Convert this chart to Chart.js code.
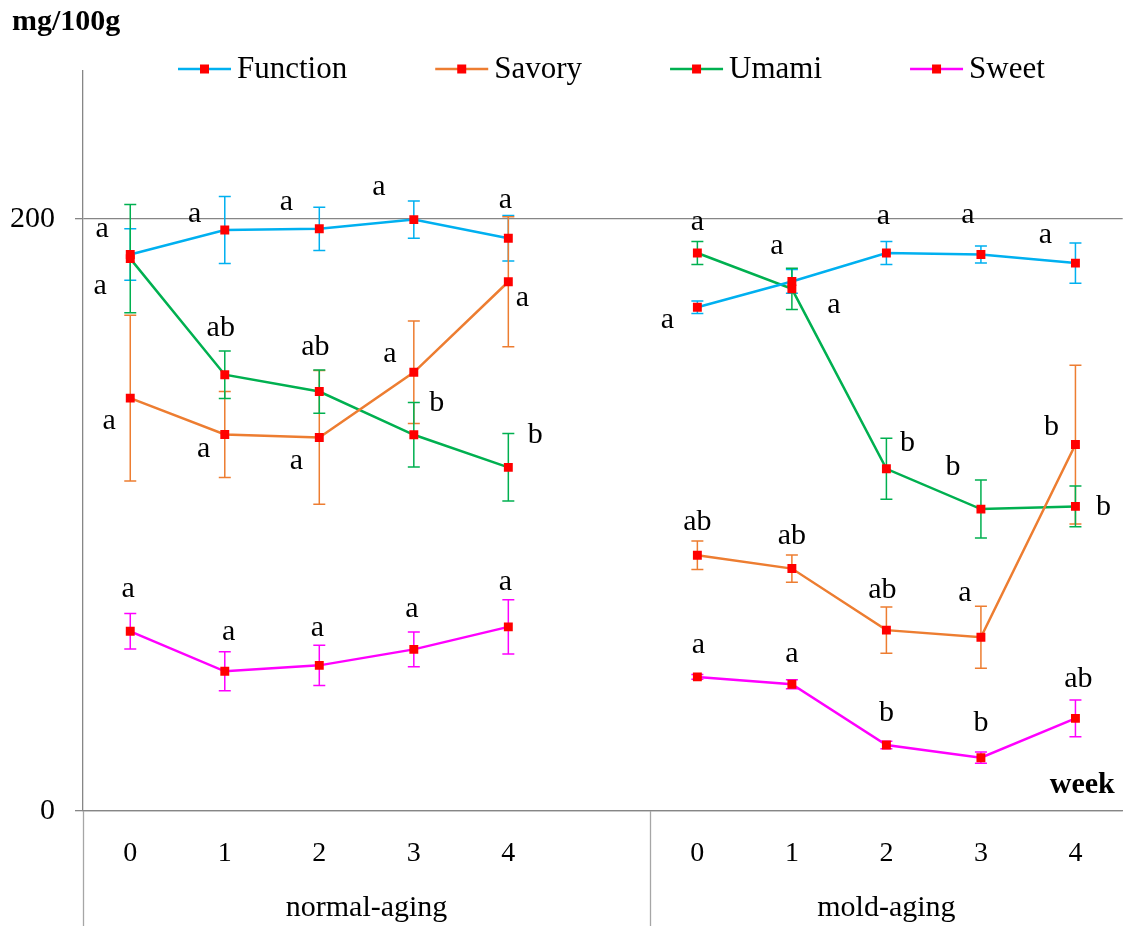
<!DOCTYPE html>
<html>
<head>
<meta charset="utf-8">
<title>Taste-active compounds during aging</title>
<script src="https://cdn.jsdelivr.net/npm/chart.js@4/dist/chart.umd.min.js"></script>
<style>
  html, body { margin: 0; padding: 0; background: #ffffff; }
  #wrap { width: 1129px; height: 926px; }
</style>
</head>
<body>
<div id="wrap"><canvas id="c" width="1129" height="926"></canvas></div>
<script>
// Week labels for both aging methods (empty slot separates the groups)
const weeks = ['0', '1', '2', '3', '4', '', '0', '1', '2', '3', '4'];
const groups = ['normal-aging', 'mold-aging'];
// Category boundaries of each group (half a slot outside the first/last week)
const groupSpans = [[-0.5, 5.5], [5.5, 10.5]];
const yTicks = [0, 200];

// Means (mg/100g), standard deviations and significance letters
const functionMean = [188.0, 196.3, 196.7, 199.8, 193.5, null, 170.2, 178.9, 188.5, 188.0, 185.1];
const functionErr  = [8.7, 11.3, 7.3, 6.3, 7.7, null, 2.1, 4.0, 3.9, 2.9, 6.8];
const functionLetters = ['a', 'a', 'a', 'a', 'a', '', 'a', 'a', 'a', 'a', 'a'];

const savoryMean = [139.5, 127.2, 126.2, 148.2, 178.8, null, 86.4, 81.9, 61.1, 58.7, 123.8];
const savoryErr  = [28.0, 14.5, 22.6, 17.3, 22.0, null, 4.8, 4.6, 7.8, 10.5, 26.8];
const savoryLetters = ['a', 'a', 'a', 'a', 'a', '', 'ab', 'ab', 'ab', 'a', 'b'];

const umamiMean = [186.6, 147.4, 141.7, 127.1, 116.1, null, 188.5, 176.4, 115.6, 102.0, 102.9];
const umamiErr  = [18.3, 8.0, 7.3, 10.9, 11.4, null, 3.9, 7.0, 10.3, 9.8, 6.9];
const umamiLetters = ['a', 'ab', 'ab', 'b', 'b', '', 'a', 'a', 'b', 'b', 'b'];

const sweetMean = [60.7, 47.2, 49.2, 54.6, 62.2, null, 45.3, 42.8, 22.3, 18.0, 31.3];
const sweetErr  = [6.0, 6.6, 6.8, 5.9, 9.2, null, 0.8, 1.5, 1.3, 1.9, 6.2];
const sweetLetters = ['a', 'a', 'a', 'a', 'a', '', 'a', 'a', 'b', 'b', 'ab'];

// Where each letter sits relative to its point, in pixels [dx, dy]
const letterOffsets = {
  Function: [[-28,-25],[-30,-16],[-33,-27],[-35,-32],[-3,-38],null,[-30,13],[-15,-35],[-3,-37],[-13,-39],[-30,-28]],
  Savory:   [[-21,23],[-21,15],[-23,24],[-24,-18],[14,16],null,[0,-33],[0,-32],[-4,-40],[-16,-44],[-24,-17]],
  Umami:    [[-30,27],[-4,-47],[-4,-44],[23,-32],[27,-32],null,[0,-31],[42,16],[21,-26],[-28,-42],[28,1]],
  Sweet:    [[-2,-42],[4,-39],[-2,-37],[-2,-40],[-3,-45],null,[1,-32],[0,-30],[0,-32],[0,-35],[3,-39]]
};

const SERIF = '"Liberation Serif", "Times New Roman", serif';
const MARKER = '#ff0000';

function series(label, color, data, err, letters) {
  return {
    label, data, err, letters,
    borderColor: color,
    backgroundColor: color,
    borderWidth: 2.5,
    pointStyle: 'rect',
    pointRadius: 6.3,
    pointHoverRadius: 6.3,
    pointBorderWidth: 0,
    pointBackgroundColor: MARKER,
    pointBorderColor: MARKER,
    spanGaps: false,
    tension: 0
  };
}

const datasets = [
  series('Function', '#00b0f0', functionMean, functionErr, functionLetters),
  series('Savory', '#ed7d31', savoryMean, savoryErr, savoryLetters),
  series('Umami', '#00b050', umamiMean, umamiErr, umamiLetters),
  series('Sweet', '#ff00ff', sweetMean, sweetErr, sweetLetters)
];

// Error bars with caps, drawn under the lines and markers
const errorBars = {
  id: 'errorBars',
  beforeDatasetsDraw(chart) {
    const { ctx } = chart;
    const x = chart.scales.x, y = chart.scales.y;
    ctx.save();
    chart.data.datasets.forEach((ds) => {
      ctx.strokeStyle = ds.borderColor;
      ctx.lineWidth = 1.5;
      ds.data.forEach((v, i) => {
        if (v === null || ds.err[i] === null) return;
        const px = x.getPixelForValue(i);
        const top = y.getPixelForValue(v + ds.err[i]);
        const bot = y.getPixelForValue(v - ds.err[i]);
        ctx.beginPath();
        ctx.moveTo(px, top); ctx.lineTo(px, bot);
        ctx.moveTo(px - 6, top); ctx.lineTo(px + 6, top);
        ctx.moveTo(px - 6, bot); ctx.lineTo(px + 6, bot);
        ctx.stroke();
      });
    });
    ctx.restore();
  }
};

// Significance letters, group captions, separators, legend and unit labels
const annotations = {
  id: 'annotations',
  afterDraw(chart) {
    const { ctx, chartArea } = chart;
    const x = chart.scales.x, y = chart.scales.y;
    ctx.save();

    // letters next to each point
    ctx.fillStyle = '#000';
    ctx.font = '30px ' + SERIF;
    ctx.textAlign = 'center';
    ctx.textBaseline = 'middle';
    chart.data.datasets.forEach((ds) => {
      const offs = letterOffsets[ds.label];
      ds.data.forEach((v, i) => {
        if (v === null || !ds.letters[i]) return;
        const px = x.getPixelForValue(i) + offs[i][0];
        const py = y.getPixelForValue(v) + offs[i][1];
        ctx.fillText(ds.letters[i], px, py);
      });
    });

    // vertical separators below the category axis
    ctx.strokeStyle = '#a6a6a6';
    ctx.lineWidth = 1.3;
    const bottom = chart.height;
    [groupSpans[0][0], groupSpans[0][1]].forEach((pos) => {
      const px = Math.round(x.getPixelForValue(pos)) + 0.5;
      ctx.beginPath();
      ctx.moveTo(px, chartArea.bottom);
      ctx.lineTo(px, bottom);
      ctx.stroke();
    });

    // group captions
    ctx.fillStyle = '#000';
    ctx.font = '30px ' + SERIF;
    groups.forEach((g, k) => {
      const [a, b] = groupSpans[k];
      const px = (x.getPixelForValue(a) + x.getPixelForValue(b)) / 2;
      ctx.fillText(g, px, chartArea.bottom + 97);
    });

    // unit labels
    ctx.font = 'bold 30px ' + SERIF;
    ctx.textAlign = 'left';
    ctx.fillText('mg/100g', 12, 22);
    ctx.textAlign = 'right';
    ctx.fillText('week', chartArea.right - 8, chartArea.bottom - 26);

    // legend: line with marker, then series name
    ctx.font = '31px ' + SERIF;
    ctx.textAlign = 'left';
    let lx = 178;
    const ly = 69;
    chart.data.datasets.forEach((ds) => {
      ctx.strokeStyle = ds.borderColor;
      ctx.lineWidth = 2.5;
      ctx.beginPath();
      ctx.moveTo(lx, ly); ctx.lineTo(lx + 53, ly);
      ctx.stroke();
      ctx.fillStyle = MARKER;
      ctx.fillRect(lx + 22, ly - 4.5, 9, 9);
      ctx.fillStyle = '#000';
      ctx.fillText(ds.label, lx + 59, ly + 1);
      lx += 59 + ctx.measureText(ds.label).width + 88;
    });

    ctx.restore();
  }
};

new Chart(document.getElementById('c'), {
  type: 'line',
  data: { labels: weeks, datasets },
  plugins: [errorBars, annotations],
  options: {
    responsive: false,
    devicePixelRatio: 1,
    animation: false,
    events: [],
    layout: { padding: { top: 71, right: 4, left: 0, bottom: 0 } },
    plugins: { legend: { display: false }, tooltip: { enabled: false } },
    scales: {
      x: {
        type: 'category',
        offset: true,
        grid: { display: false, drawTicks: false },
        border: { display: true, color: '#868686', width: 1.3 },
        ticks: {
          color: '#000',
          font: { family: SERIF, size: 28 },
          padding: 26,
          maxRotation: 0,
          autoSkip: false
        },
        afterFit(scale) { scale.height = 115; }
      },
      y: {
        min: 0,
        max: 250,
        afterBuildTicks(scale) { scale.ticks = yTicks.map((v) => ({ value: v })); },
        grid: { color: '#868686', lineWidth: 1.3, tickLength: 8 },
        border: { display: true, color: '#868686', width: 1.3 },
        ticks: {
          color: '#000',
          font: { family: SERIF, size: 30 },
          padding: 20
        },
        afterFit(scale) { scale.width = 83; }
      }
    }
  }
});
</script>
</body>
</html>
